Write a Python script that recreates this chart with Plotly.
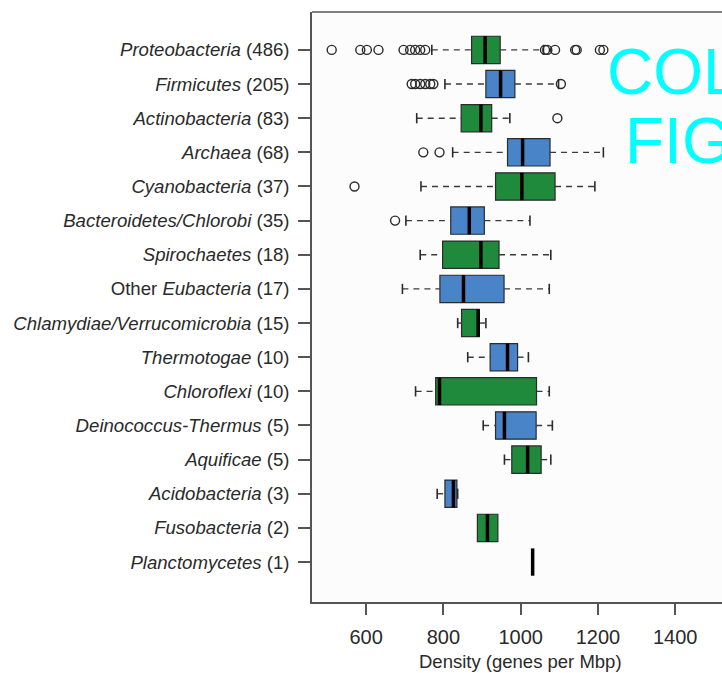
import plotly.graph_objects as go

# ---------------- data ----------------
taxa = ["Proteobacteria", "Firmicutes", "Actinobacteria", "Archaea", "Cyanobacteria",
        "Bacteroidetes/Chlorobi", "Spirochaetes", "Other Eubacteria",
        "Chlamydiae/Verrucomicrobia", "Thermotogae", "Chloroflexi",
        "Deinococcus-Thermus", "Aquificae", "Acidobacteria", "Fusobacteria",
        "Planctomycetes"]
tick_labels = ["<i>Proteobacteria</i> (486)", "<i>Firmicutes</i> (205)",
               "<i>Actinobacteria</i> (83)", "<i>Archaea</i> (68)",
               "<i>Cyanobacteria</i> (37)", "<i>Bacteroidetes/Chlorobi</i> (35)",
               "<i>Spirochaetes</i> (18)", "Other <i>Eubacteria</i> (17)",
               "<i>Chlamydiae/Verrucomicrobia</i> (15)", "<i>Thermotogae</i> (10)",
               "<i>Chloroflexi</i> (10)", "<i>Deinococcus-Thermus</i> (5)",
               "<i>Aquificae</i> (5)", "<i>Acidobacteria</i> (3)",
               "<i>Fusobacteria</i> (2)", "<i>Planctomycetes</i> (1)"]
q1 = [873, 910, 846, 966, 935, 819, 798, 791, 847, 921, 780, 935, 977, 804, 888, 1031]
median = [908, 948, 897, 1005, 1003, 867, 897, 852, 890, 966, 790, 958, 1018, 826, 914, 1031]
q3 = [947, 985, 925, 1076, 1089, 906, 944, 957, 893, 992, 1041, 1040, 1053, 835, 941, 1031]
whisker_lo = [770, 804, 731, 824, 742, 703, 740, 694, 837, 863, 728, 903, 958, 784, 888, 1031]
whisker_hi = [1059, 1098, 972, 1214, 1192, 1024, 1078, 1074, 910, 1020, 1074, 1082, 1078, 837, 941, 1031]
outliers = [
    [511, 585, 602, 632, 697, 714, 727, 740, 753, 1063, 1069, 1089, 1141, 1145, 1205, 1214],
    [718, 727, 740, 753, 766, 774, 1104],
    [1095],
    [748, 790],
    [570],
    [675],
    [], [], [], [], [], [], [], [], [], [],
]
box_colors = ["#1f8a3c", "#4a84c8"]
x_ticks = [600, 800, 1000, 1200, 1400]
x_range = [460, 1521]
x_title = "Density (genes per Mbp)"

# ---------------- figure ----------------
fig = go.Figure()
n = len(taxa)
edge = "#2b2b2b"
half = 0.4
cap = 0.15

for i in range(n):
    if q3[i] > q1[i]:
        fig.add_trace(go.Box(
            y=[i], q1=[q1[i]], median=[median[i]], q3=[q3[i]],
            lowerfence=[q1[i]], upperfence=[q3[i]],
            orientation="h", width=0.8,
            fillcolor=box_colors[i % 2],
            line=dict(color=edge, width=1.2),
            boxpoints=False, showlegend=False, hoverinfo="skip"))

# whiskers (dashed)
wx, wy = [], []
for i in range(n):
    if whisker_lo[i] < q1[i]:
        wx += [whisker_lo[i], q1[i], None]
        wy += [i, i, None]
    if whisker_hi[i] > q3[i]:
        wx += [q3[i], whisker_hi[i], None]
        wy += [i, i, None]
fig.add_trace(go.Scatter(x=wx, y=wy, mode="lines",
                         line=dict(color="#3a3a3a", width=1.4, dash="6px,5px"),
                         showlegend=False, hoverinfo="skip"))

# whisker caps
cx, cy = [], []
for i in range(n):
    for v, ref in ((whisker_lo[i], q1[i]), (whisker_hi[i], q3[i])):
        if v != ref:
            cx += [v, v, None]
            cy += [i - cap, i + cap, None]
fig.add_trace(go.Scatter(x=cx, y=cy, mode="lines",
                         line=dict(color="#2b2b2b", width=1.6),
                         showlegend=False, hoverinfo="skip"))

# medians
mx, my = [], []
for i in range(n):
    mx += [median[i], median[i], None]
    my += [i - half, i + half, None]
fig.add_trace(go.Scatter(x=mx, y=my, mode="lines",
                         line=dict(color="black", width=3.5),
                         showlegend=False, hoverinfo="skip"))

# outliers
ox, oy = [], []
for i in range(n):
    for v in outliers[i]:
        ox.append(v)
        oy.append(i)
fig.add_trace(go.Scatter(x=ox, y=oy, mode="markers",
                         marker=dict(symbol="circle-open", size=9,
                                     color="#2b2b2b", line=dict(width=1.4)),
                         showlegend=False, hoverinfo="skip"))

frame = "#555555"
fig.update_layout(
    width=722, height=673,
    margin=dict(l=312, r=0, t=12, b=71),
    paper_bgcolor="white", plot_bgcolor="#fcfcfd",
    font=dict(family="Liberation Sans, Arial, sans-serif", color="#2a2a2a"),
    xaxis=dict(range=x_range, tickvals=x_ticks, ticks="outside", ticklen=11,
               tickwidth=1.5, tickcolor=frame, showgrid=False, zeroline=False,
               showline=True, linecolor=frame, linewidth=1.5, automargin=False,
               tickfont=dict(size=20), ticklabelstandoff=5),
    yaxis=dict(range=[n + 0.17, -1.11], tickvals=list(range(n)), ticktext=tick_labels,
               ticks="outside", ticklen=12, tickwidth=1.5, tickcolor=frame,
               showgrid=False, zeroline=False, showline=True, linecolor=frame,
               linewidth=1.5, tickfont=dict(size=18.6), ticklabelstandoff=5,
               automargin=False),
    shapes=[dict(type="line", xref="paper", yref="paper", x0=0, x1=1.1, y0=1, y1=1,
                 line=dict(color=frame, width=1.5))],
    annotations=[
        dict(text=x_title, xref="x", yref="paper", x=1000,
             y=(602 - 661) / 590, xanchor="center", yanchor="middle", showarrow=False,
             font=dict(size=18.5, color="#2a2a2a")),
        dict(text="COLOUR", xref="paper", yref="paper", x=(605 - 312) / 410,
             y=(602 - 72) / 590, xanchor="left", yanchor="middle", showarrow=False,
             font=dict(size=64, color="#00ffff")),
        dict(text="FIGURE", xref="paper", yref="paper", x=(623 - 312) / 410,
             y=(602 - 141) / 590, xanchor="left", yanchor="middle", showarrow=False,
             font=dict(size=64, color="#00ffff")),
    ],
)

fig.write_html("out.html", config={"displayModeBar": False},
               post_script="document.body.style.margin='0';")
